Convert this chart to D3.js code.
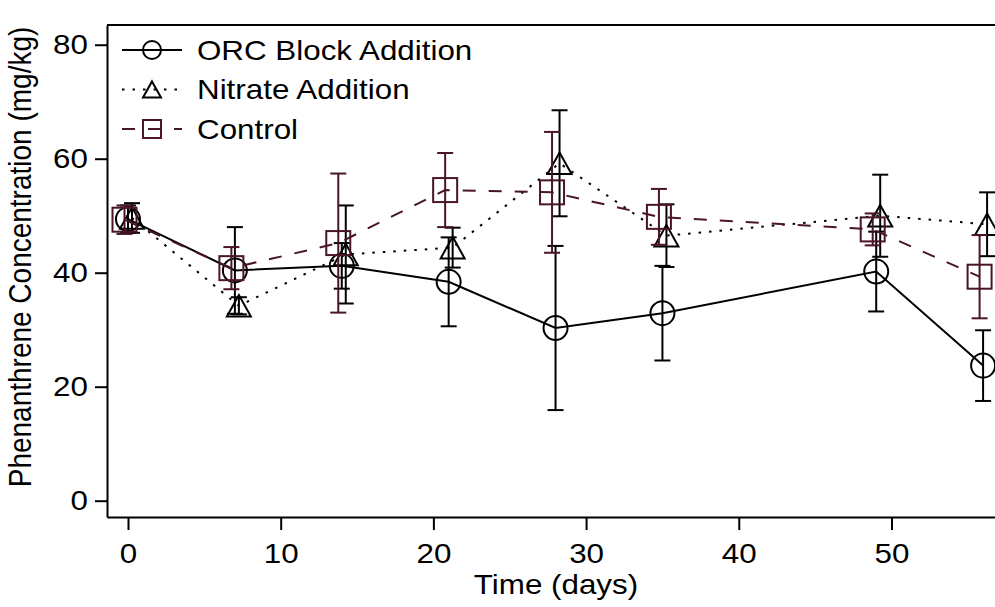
<!DOCTYPE html>
<html>
<head>
<meta charset="utf-8">
<script src="https://cdn.jsdelivr.net/npm/d3@7"></script>
<style>
  body { margin: 0; background: #fff; }
  svg { display: block; font-family: "Liberation Sans", Arial, sans-serif; }
</style>
</head>
<body>
<svg width="995" height="607"></svg>
<script>
// sampling days
const days = [0, 7, 14, 21, 28, 35, 49, 56];

// mean phenanthrene (mg/kg) and error bar half-widths
const orcMean = [49.4, 40.4, 41.2, 38.4, 30.3, 32.9, 40.2, 23.7];
const orcErr = [2.4, 7.6, 4.0, 7.8, 14.4, 8.3, 7.0, 6.2];
const nitrateMean = [49.6, 34.2, 43.2, 44.4, 59.2, 46.5, 50.0, 48.5];
const nitrateErr = [2.6, 1.5, 8.6, 3.5, 9.3, 5.5, 7.2, 5.6];
const controlMean = [49.3, 40.8, 45.2, 54.5, 54.1, 49.8, 47.6, 39.3];
const controlErr = [2.5, 3.7, 12.2, 6.5, 10.6, 4.9, 2.8, 7.3];

const seriesNames = ["ORC Block Addition", "Nitrate Addition", "Control"];
const xTicks = [0, 10, 20, 30, 40, 50];
const yTicks = [0, 20, 40, 60, 80];

const svg = d3.select("svg");
const width = +svg.attr("width");
const plotLeft = 107, plotTop = 25, plotBottom = 517;
const maroon = "#4a1526";
const fontSize = 28;
const stretch = 1.12; // the figure's lettering is a bit wider than plain Arial

const x = d3.scaleLinear().domain([-1.375, 56.78]).range([plotLeft, width]);
const y = d3.scaleLinear().domain([-2.86, 83.46]).range([plotBottom, plotTop]);

const series = [
  { name: seriesNames[0], mean: orcMean, err: orcErr, color: "#000", dash: null, marker: "circle", dx: 0 },
  { name: seriesNames[1], mean: nitrateMean, err: nitrateErr, color: "#000", dash: "2.5,8", marker: "triangle", dx: 4 },
  { name: seriesNames[2], mean: controlMean, err: controlErr, color: maroon, dash: "13,13", marker: "square", dx: -3.5 }
];

function widen(sel) {
  sel.each(function() {
    const t = d3.select(this);
    const ax = +t.attr("x") || 0;
    t.attr("transform", `translate(${ax},0) scale(${stretch},1) translate(${-ax},0)`);
  });
}

function drawMarker(g, type, cx, cy, size, color) {
  if (type === "circle") {
    g.append("circle").attr("cx", cx).attr("cy", cy).attr("r", size / 2)
      .attr("fill", "none").attr("stroke", color).attr("stroke-width", 2);
  } else if (type === "square") {
    g.append("rect").attr("x", cx - size / 2).attr("y", cy - size / 2)
      .attr("width", size).attr("height", size)
      .attr("fill", "none").attr("stroke", color).attr("stroke-width", 2);
  } else {
    const h = size * 0.9;
    g.append("path")
      .attr("d", `M${cx},${cy - h / 2}L${cx + size / 2},${cy + h / 2}L${cx - size / 2},${cy + h / 2}Z`)
      .attr("fill", "none").attr("stroke", color).attr("stroke-width", 2);
  }
}

// axes
const xAxis = svg.append("g")
  .attr("transform", `translate(0,${plotBottom})`)
  .call(d3.axisBottom(x).tickValues(xTicks).tickSizeInner(13).tickSizeOuter(0).tickPadding(9));
const yAxis = svg.append("g")
  .attr("transform", `translate(${plotLeft},0)`)
  .call(d3.axisLeft(y).tickValues(yTicks).tickSizeInner(12).tickSizeOuter(0).tickPadding(7));

[xAxis, yAxis].forEach(a => {
  a.select(".domain").attr("stroke-width", 2);
  a.selectAll(".tick line").attr("stroke-width", 2);
  a.selectAll(".tick text").attr("font-size", fontSize).attr("fill", "#000")
    .attr("font-family", "Liberation Sans, Arial, sans-serif")
    .call(widen);
});
xAxis.selectAll(".tick text").attr("dy", "0.85em");

// top frame line
svg.append("line")
  .attr("x1", plotLeft).attr("x2", width).attr("y1", plotTop).attr("y2", plotTop)
  .attr("stroke", "#000").attr("stroke-width", 2);

// axis titles
svg.append("text")
  .attr("x", 556).attr("y", 594)
  .attr("text-anchor", "middle").attr("font-size", fontSize)
  .text("Time (days)")
  .call(widen);
svg.append("text")
  .attr("transform", `translate(31,257) rotate(-90) scale(1,${stretch})`)
  .attr("text-anchor", "middle").attr("font-size", fontSize)
  .text("Phenanthrene Concentration (mg/kg)");

// series: lines, error bars, markers
const plot = svg.append("g");
series.forEach(s => {
  const pts = days.map((d, i) => ({ px: x(d) + s.dx, m: s.mean[i], e: s.err[i] }));
  const line = d3.line().x(p => p.px).y(p => y(p.m));
  plot.append("path").datum(pts)
    .attr("d", line)
    .attr("fill", "none").attr("stroke", s.color).attr("stroke-width", 2)
    .attr("stroke-dasharray", s.dash);

  pts.forEach(p => {
    const y1 = y(p.m + p.e), y2 = y(p.m - p.e);
    plot.append("line").attr("x1", p.px).attr("x2", p.px).attr("y1", y1).attr("y2", y2)
      .attr("stroke", s.color).attr("stroke-width", 2);
    [y1, y2].forEach(yy => plot.append("line")
      .attr("x1", p.px - 8).attr("x2", p.px + 8).attr("y1", yy).attr("y2", yy)
      .attr("stroke", s.color).attr("stroke-width", 2));
    drawMarker(plot, s.marker, p.px, y(p.m), 24, s.color);
  });
});

// legend
const legend = svg.append("g");
series.forEach((s, i) => {
  const cy = 50 + i * 39.5;
  legend.append("line")
    .attr("x1", 122).attr("x2", 182).attr("y1", cy).attr("y2", cy)
    .attr("stroke", s.color).attr("stroke-width", 2)
    .attr("stroke-dasharray", s.dash);
  drawMarker(legend, s.marker, 152, cy, 18, s.color);
  legend.append("text")
    .attr("x", 197).attr("y", cy + 10)
    .attr("font-size", fontSize)
    .text(s.name)
    .call(widen);
});
</script>
</body>
</html>
